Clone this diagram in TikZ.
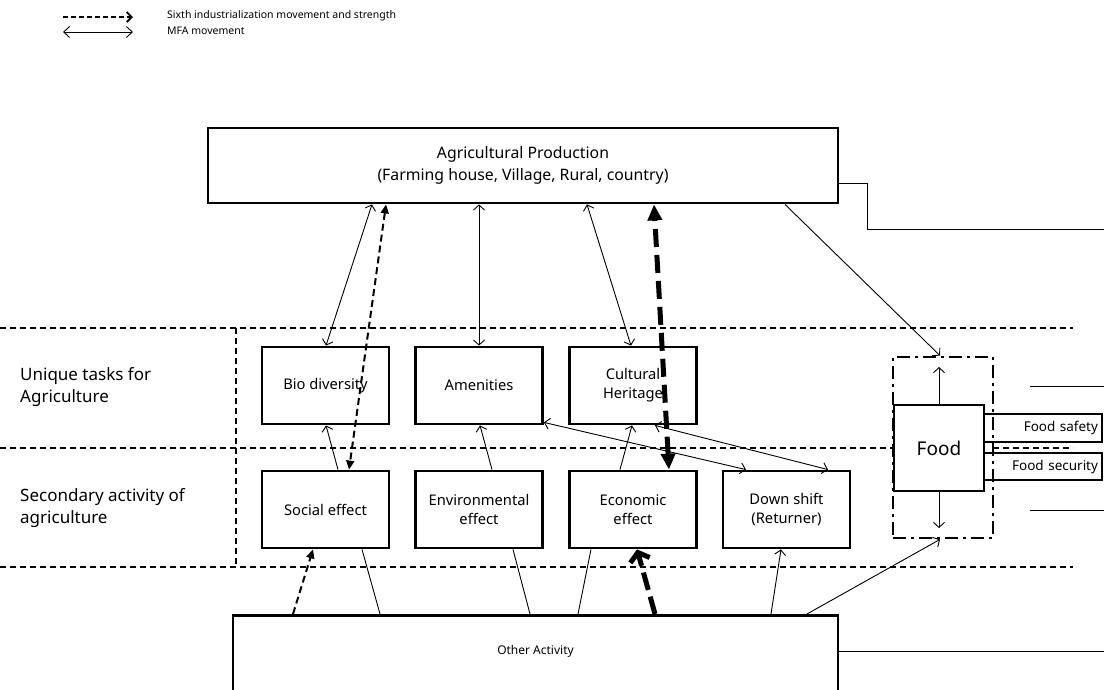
\documentclass[tikz,border=0pt]{standalone}
\usepackage{fontspec}
\setmainfont{Noto Sans}
\usetikzlibrary{arrows.meta,calc}

\begin{document}
\begin{tikzpicture}[x=1pt,y=-1pt,
  box/.style={draw,line width=2.8pt,minimum width=127pt,minimum height=77pt,inner sep=0pt,align=center,font=\fontsize{14.7}{19}\selectfont},
  mfa/.style={line width=0.9pt,{Straight Barb[length=5pt,width=11pt]}-{Straight Barb[length=5pt,width=11pt]}},
  one/.style={line width=0.9pt,-{Straight Barb[length=5pt,width=11pt]}},
  plain/.style={line width=0.9pt},
  sixth/.style={line width=2pt,dash pattern=on 7pt off 4pt},
  sixthtip/.tip={Triangle[length=9pt,width=8pt]},
  strongtip/.tip={Triangle[length=16pt,width=14pt]},
  strong/.style={line width=5pt,dash pattern=on 18pt off 8pt},
  band/.style={line width=1.2pt,dash pattern=on 6pt off 4pt},
  lbl/.style={anchor=west,align=left,inner sep=0pt,font=\fontsize{17}{22}\selectfont},
  side/.style={box,minimum width=118pt,line width=2.5pt,font=\fontsize{13.5}{15}\selectfont,align=right,text width=110pt},
]
\useasboundingbox (0,0) rectangle (1104,689);

% legend
\coordinate (l1a) at (63,17); \coordinate (l1b) at (133,17);
\coordinate (l2a) at (63,32); \coordinate (l2b) at (133,32);
\draw[line width=1.8pt,dash pattern=on 5pt off 3pt,-{Straight Barb[length=5pt,width=10pt]}] (l1a) -- (l1b);
\draw[line width=0.9pt,{Straight Barb[length=6pt,width=11pt]}-{Straight Barb[length=6pt,width=11pt]}] (l2a) -- (l2b);
\node[anchor=west,inner sep=0pt,font=\fontsize{10.5}{12}\selectfont] (lg1) at (167,16) {Sixth industrialization movement and strength};
\node[anchor=west,inner sep=0pt,font=\fontsize{10.5}{12}\selectfont] (lg2) at (167,31) {MFA movement};

% horizontal bands
\draw[band] (0,328) -- (1073,328);
\draw[band] (0,448) -- (893,448);
\draw[band] (993,448) -- (1073,448);
\draw[band] (0,567) -- (1073,567);
\draw[band] (236,328) -- (236,567);

\node[lbl] (row1) at (20,387) {Unique tasks for\\Agriculture};
\node[lbl] (row2) at (20,508) {Secondary activity of\\agriculture};

% main boxes
\node[box,minimum width=630pt,minimum height=75pt,font=\fontsize{15.8}{22}\selectfont] (top) at (523,165.5)
  {Agricultural Production\\(Farming house, Village, Rural, country)};

\node[box] (bio)  at (325.5,385.5) {Bio diversity};
\node[box] (amen) at (479,385.5)   {Amenities};
\node[box] (cult) at (633,385.5)   {Cultural\\Heritage};

\node[box] (soc)  at (325.5,509.5) {Social effect};
\node[box] (env)  at (479,509.5)   {Environmental\\effect};
\node[box] (econ) at (633,509.5)   {Economic\\effect};
\node[box] (down) at (786.5,509.5) {Down shift\\(Returner)};

\node[box,anchor=north,minimum width=605pt,minimum height=150pt] (oa) at (535.5,614) {};
\node[inner sep=0pt,font=\fontsize{12}{14}\selectfont] (oatext) at (535.5,651) {Other Activity};

% food group
\node[draw,line width=2.8pt,dash pattern=on 13pt off 5pt on 3pt off 5pt,minimum width=100pt,minimum height=181pt,inner sep=0pt] (fdash) at (943,447.5) {};
\node[box,fill=white,minimum width=90pt,minimum height=86pt,font=\fontsize{19}{22}\selectfont] (food) at (939,448) {Food};
\node[side,minimum height=28pt] (fsaf) at (1043,428) {Food safety};
\node[side,minimum height=27pt] (fsec) at (1043,466.5) {Food security};

\coordinate (fup) at (939,367);
\coordinate (fdn) at (939,528);
\draw[one] (food.north) -- (fup);
\draw[one] (food.south) -- (fdn);

% connections to the right
\coordinate (r1a) at (867,183); \coordinate (r1b) at (867,229); \coordinate (r1c) at (1104,229);
\draw[line width=1pt] ([yshift=-17.5pt]top.east) -- (r1a) -- (r1b) -- (r1c);
\coordinate (r2a) at (1030,386); \coordinate (r2b) at (1104,386);
\coordinate (r3a) at (1030,510); \coordinate (r3b) at (1104,510);
\draw[line width=1pt] (r2a) -- (r2b);
\draw[line width=1pt] (r3a) -- (r3b);
\coordinate (r4) at (1104,651);
\draw[line width=1pt] (oa.east |- oatext) -- (r4);

% MFA movement
\draw[mfa] (top.south -| 372,0) -- (bio.north -| 326,0);
\draw[mfa] (top.south -| 479,0) -- (amen.north);
\draw[mfa] (top.south -| 587,0) -- (cult.north -| 631,0);
\draw[mfa] ([yshift=3pt]amen.south east) -- (down.north -| 746,0);
\draw[mfa] (cult.south -| 655,0) -- (down.north -| 828,0);

\draw[one] (soc.north -| 338,0) -- (bio.south -| 326,0);
\draw[one] (env.north -| 492,0) -- (amen.south -| 480,0);
\draw[one] (econ.north -| 620,0) -- (cult.south -| 632,0);

\draw[plain] (oa.north -| 380,0) -- (soc.south -| 362,0);
\draw[plain] (oa.north -| 530,0) -- (env.south -| 513,0);
\draw[plain] (oa.north -| 578,0) -- (econ.south -| 591,0);
\draw[one] (oa.north -| 771,0) -- (down.south -| 781,0);
\draw[one] (oa.north -| 807,0) -- (fdash.south -| 940,0);
\draw[one] (top.south -| 785,0) -- (fdash.north -| 940,0);

% sixth industrialization movement
\draw[sixth,sixthtip-sixthtip] (top.south -| 386,0) -- (soc.north -| 349,0);
\draw[sixth,-sixthtip] (oa.north -| 293,0) -- (soc.south -| 313,0);
\draw[strong,strongtip-strongtip] (econ.north -| 669,0) -- (top.south -| 654,0);
\draw[strong,dash pattern=on 18pt off 7pt,-{Straight Barb[length=8pt,width=20pt]}] (oa.north -| 655,0) -- (econ.south -| 637,0);
\end{tikzpicture}
\end{document}
